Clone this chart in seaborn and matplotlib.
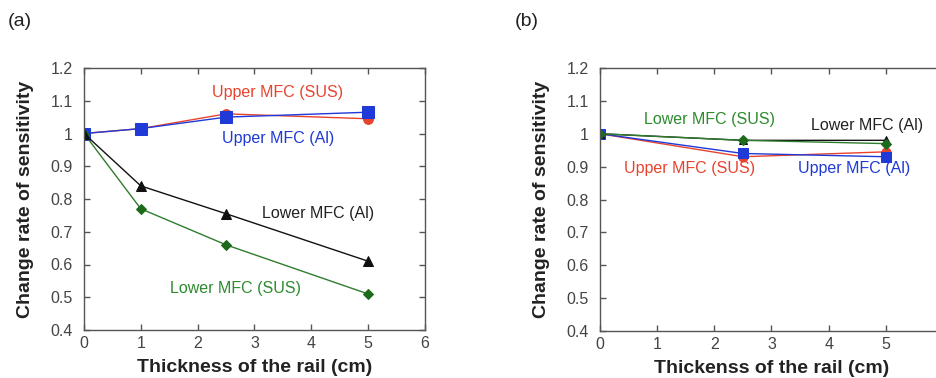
import pandas as pd
import numpy as np
import matplotlib.pyplot as plt
import seaborn as sns

sns.set_style("ticks")
plt.rcParams['font.family'] = ['Liberation Sans', 'DejaVu Sans']

# Data
x_a = [0, 1, 2.5, 5]
upper_sus_a = [1.0, 1.015, 1.06, 1.045]
upper_al_a = [1.0, 1.015, 1.05, 1.065]
lower_al_a = [1.0, 0.84, 0.755, 0.61]
lower_sus_a = [1.0, 0.77, 0.66, 0.51]

x_b = [0, 2.5, 5]
upper_sus_b = [1.0, 0.93, 0.945]
upper_al_b = [1.0, 0.94, 0.93]
lower_sus_b = [1.0, 0.98, 0.97]
lower_al_b = [1.0, 0.98, 0.98]

y_ticks = [0.4, 0.5, 0.6, 0.7, 0.8, 0.9, 1.0, 1.1, 1.2]
y_tick_labels = ['0.4', '0.5', '0.6', '0.7', '0.8', '0.9', '1', '1.1', '1.2']
x_ticks = [0, 1, 2, 3, 4, 5, 6]
x_tick_labels_a = ['0', '1', '2', '3', '4', '5', '6']
x_tick_labels_b = ['0', '1', '2', '3', '4', '5', '']

red = '#e8432e'
blue = '#1f3ad6'
green = '#2e7d2e'
black = '#111111'

fig = plt.figure(figsize=(9.37, 3.78), dpi=100)
ax_a = fig.add_axes([84/937, 48/378, 341/937, 262/378])
ax_b = fig.add_axes([600/937, 47/378, 343/937, 263/378])


def serie(ax, x, y, color, marker, ms, mcolor=None):
    sns.lineplot(x=x, y=y, ax=ax, color=color, marker=marker, markersize=ms,
                 markerfacecolor=mcolor or color, markeredgecolor=mcolor or color,
                 linewidth=1.0, estimator=None, sort=False)


# (a)
serie(ax_a, x_a, upper_sus_a, red, 'o', 7)
serie(ax_a, x_a, upper_al_a, blue, 's', 8)
serie(ax_a, x_a, lower_sus_a, green, 'D', 5, '#1d6a1d')
serie(ax_a, x_a, lower_al_a, black, '^', 6.5)

ax_a.text(3.4, 1.124, 'Upper MFC (SUS)', color=red, fontsize=11.5, ha='center', va='center')
ax_a.text(3.42, 0.986, 'Upper MFC (Al)', color=blue, fontsize=11.5, ha='center', va='center')
ax_a.text(4.12, 0.757, 'Lower MFC (Al)', color='#222222', fontsize=11.5, ha='center', va='center')
ax_a.text(2.66, 0.528, 'Lower MFC (SUS)', color='#2e8b2e', fontsize=11.5, ha='center', va='center')

# (b)
serie(ax_b, x_b, upper_sus_b, red, 'o', 6.5)
serie(ax_b, x_b, upper_al_b, blue, 's', 7)
serie(ax_b, x_b, lower_al_b, black, '^', 6)
serie(ax_b, x_b, lower_sus_b, green, 'D', 5, '#1d6a1d')

ax_b.text(1.92, 1.044, 'Lower MFC (SUS)', color='#2e8b2e', fontsize=11.5, ha='center', va='center')
ax_b.text(4.68, 1.026, 'Lower MFC (Al)', color='#222222', fontsize=11.5, ha='center', va='center')
ax_b.text(1.57, 0.895, 'Upper MFC (SUS)', color=red, fontsize=11.5, ha='center', va='center')
ax_b.text(4.45, 0.895, 'Upper MFC (Al)', color=blue, fontsize=11.5, ha='center', va='center')

for ax, xlabel, xtl in [(ax_a, 'Thickness of the rail (cm)', x_tick_labels_a),
                        (ax_b, 'Thickenss of the rail (cm)', x_tick_labels_b)]:
    ax.set_xlim(0, 6)
    ax.set_ylim(0.4, 1.2)
    ax.set_xticks(x_ticks)
    ax.set_xticklabels(xtl)
    ax.set_yticks(y_ticks)
    ax.set_yticklabels(y_tick_labels)
    ax.tick_params(direction='in', top=True, right=True, length=4, width=1,
                   colors='#555555', labelcolor='#444444', labelsize=11.5)
    ax.tick_params(axis='y', pad=8)
    ax.tick_params(axis='x', pad=4)
    for s in ax.spines.values():
        s.set_visible(True)
        s.set_color('#555555')
        s.set_linewidth(1.0)
    ax.set_xlabel(xlabel, fontsize=14, fontweight='bold', color='#222222', labelpad=6)
    ax.set_ylabel('Change rate of sensitivity', fontsize=14, fontweight='bold',
                  color='#222222', labelpad=12)

fig.text(8/937, 1 - 22/378, '(a)', fontsize=14, va='center', ha='left', color='#222222')
fig.text(515/937, 1 - 22/378, '(b)', fontsize=14, va='center', ha='left', color='#222222')

plt.savefig('out.png', dpi=100)
plt.close()
